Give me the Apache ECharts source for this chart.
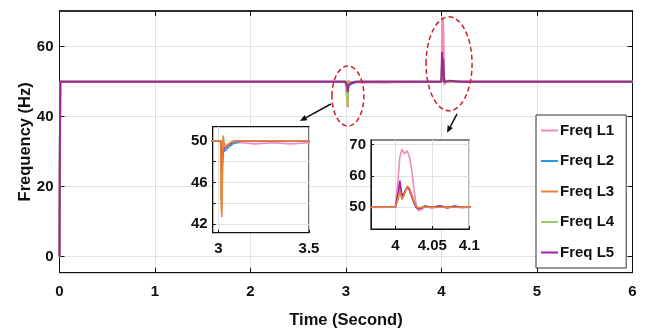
<!DOCTYPE html>
<html><head><meta charset="utf-8">
<script src="https://cdn.jsdelivr.net/npm/echarts@6/dist/echarts.min.js"></script>
<style>html,body{margin:0;padding:0;background:#fff}#c{width:649px;height:335px}</style>
</head><body><div id="c"></div>
<script>
// ---- data (time in seconds, frequency in Hz) ----
const T  = [0, 0.004, 0.008, 2.995, 3.012, 3.015, 3.018, 3.022, 3.026, 3.03, 3.04, 3.05, 3.065, 3.08, 3.1, 3.13, 3.2, 3.3, 3.4, 3.5, 3.9, 4.0, 4.002, 4.004, 4.006, 4.009, 4.012, 4.016, 4.019, 4.022, 4.025, 4.028, 4.031, 4.035, 4.04, 4.05, 4.06, 4.07, 4.08, 4.09, 4.1, 4.2, 6];
const L1 = [0, 30, 50, 50, 50, 49.7, 49.5, 49.6, 49.7, 49.6, 49.5, 49.6, 49.7, 49.8, 49.8, 49.8, 49.7, 49.8, 49.7, 49.8, 49.9, 50, 50, 60, 66, 68.5, 67, 68, 66, 62, 56, 51, 49, 49.2, 50.2, 49.7, 50.3, 49.8, 50.2, 49.8, 50, 50, 50];
const L2 = [0, 30, 50, 50, 50, 49.4, 49.1, 48.9, 48.8, 48.9, 49.1, 49.3, 49.5, 49.7, 49.8, 50, 50, 50, 50, 50, 50, 50, 50, 54, 57, 53.5, 54.5, 56.5, 56, 54, 52, 50.5, 49.7, 49.8, 50.4, 50, 50.5, 49.9, 50.4, 50, 50, 50, 50];
const L3 = [0, 30, 50, 50, 50, 44, 42.7, 47, 50.5, 49.8, 49.4, 49.5, 49.8, 49.9, 50, 50, 50, 50, 50, 50, 50, 50, 50, 53, 55, 52.5, 54, 56.8, 56, 54, 52, 50.3, 49.8, 50, 50.1, 50, 50, 50, 50, 50, 50, 50, 50];
const L4 = [0, 30, 50, 50, 50, 45, 43.3, 47.5, 50.2, 49.7, 49.4, 49.6, 49.8, 49.9, 50, 50, 50, 50, 50, 50, 50, 50, 50, 53.5, 56, 53, 54.5, 56.5, 55.5, 53.5, 51.5, 50, 49.6, 49.8, 50.2, 50, 50.2, 50, 50.1, 50, 50, 50, 50];
const L5 = [0, 30, 50, 50, 50, 48.5, 47, 48, 48.8, 49.2, 49.4, 49.5, 49.7, 49.9, 50, 50, 50, 50, 50, 50, 50, 50, 50, 55, 58.5, 53.5, 54.5, 56.5, 55.5, 53.5, 51.5, 50, 49.5, 49.8, 50.3, 50, 50.4, 49.9, 50.3, 50, 50, 50, 50];
const seriesNames = ['Freq L1', 'Freq L2', 'Freq L3', 'Freq L4', 'Freq L5'];
const seriesValues = [L1, L2, L3, L4, L5];
const mainYTicks = [0, 20, 40, 60];
const mainXTicks = [0, 1, 2, 3, 4, 5, 6];
const inset1XTicks = [3, 3.5];
const inset1YLabels = [42, 46, 50];
const inset1YTicks = [42, 44, 46, 48, 50];
const inset2XTicks = [4, 4.05, 4.1];
const inset2YTicks = [50, 60, 70];

// ---- styling ----
const colors = ['#f08cb8', '#1e9fd8', '#f07f3a', '#98cc68', '#a0229e'];
const FONT = 'Liberation Sans';
const lbl = {fontFamily: FONT, fontWeight: 'bold', fontSize: 15, color: '#111'};
const gridLine = {show: true, lineStyle: {color: '#e2e2e2', width: 1}};

const chart = echarts.init(document.getElementById('c'));

function pairs(vals) { return T.map((t, k) => [t, vals[k]]); }

const series = [];
function addSeries(gi, order, width, z) {
  order.forEach(i => {
    series.push({
      name: seriesNames[i], type: 'line', xAxisIndex: gi, yAxisIndex: gi,
      data: pairs(seriesValues[i]), showSymbol: false, symbol: 'none',
      lineStyle: {color: colors[i], width: width}, itemStyle: {color: colors[i]},
      clip: true, animation: false, z: z
    });
  });
}
addSeries(0, [0, 1, 2, 3, 4], 2, 2);
addSeries(1, [0, 1, 3, 4, 2], 1.6, 8);
addSeries(2, [0, 1, 3, 4, 2], 1.6, 8);

const axisBlack = {show: true, onZero: false, lineStyle: {color: '#111', width: 1}};

const option = {
  animation: false,
  backgroundColor: '#fff',
  grid: [
    {left: 59.5, right: 16.5, top: 11, bottom: 62.3, show: true, borderColor: '#111', borderWidth: 1, backgroundColor: '#fff'},
    {left: 212.7, width: 96.3, top: 126.7, height: 106, show: true, borderColor: '#111', borderWidth: 1.2, backgroundColor: '#fff', z: 5},
    {left: 371, width: 98.3, top: 140, height: 89, show: true, borderColor: '#111', borderWidth: 1.2, backgroundColor: '#fff', z: 5}
  ],
  xAxis: [
    {type: 'value', gridIndex: 0, min: 0, max: 6, interval: 1, axisLine: axisBlack,
     axisTick: {inside: true, length: 5, lineStyle: {color: '#111'}},
     axisLabel: Object.assign({margin: 12, customValues: mainXTicks}, lbl),
     splitLine: gridLine,
     name: 'Time (Second)', nameLocation: 'middle', nameGap: 39,
     nameTextStyle: {fontFamily: FONT, fontWeight: 'bold', fontSize: 16.5, color: '#111'}},
    {type: 'value', gridIndex: 1, min: 2.968, max: 3.5, axisLine: axisBlack,
     axisTick: {inside: true, length: 3, customValues: inset1XTicks, lineStyle: {color: '#111'}},
     axisLabel: Object.assign({margin: 9, customValues: inset1XTicks, showMinLabel: true, showMaxLabel: true}, lbl),
     splitLine: gridLine, z: 6},
    {type: 'value', gridIndex: 2, min: 3.967, max: 4.1, axisLine: axisBlack,
     axisTick: {inside: true, length: 3, customValues: inset2XTicks, lineStyle: {color: '#111'}},
     axisLabel: Object.assign({margin: 9, customValues: inset2XTicks}, lbl),
     splitLine: gridLine, z: 6},
    {type: 'value', gridIndex: 0, position: 'top', min: 0, max: 6, interval: 1,
     axisLine: {show: true, onZero: false, lineStyle: {color: '#111', width: 1.5}},
     axisTick: {inside: true, length: 5, lineStyle: {color: '#111'}},
     axisLabel: {show: false}, splitLine: {show: false}}
  ],
  yAxis: [
    {type: 'value', gridIndex: 0, min: -4.6, max: 70.2, axisLine: axisBlack,
     axisTick: {inside: true, length: 5, customValues: mainYTicks, lineStyle: {color: '#111'}},
     axisLabel: Object.assign({margin: 6, customValues: mainYTicks}, lbl),
     splitLine: gridLine,
     name: 'Frequency (Hz)', nameLocation: 'middle', nameGap: 26, nameMoveOverlap: false,
     nameTextStyle: {fontFamily: FONT, fontWeight: 'bold', fontSize: 16.5, color: '#111'}},
    {type: 'value', gridIndex: 1, min: 41.2, max: 51.34, axisLine: axisBlack,
     axisTick: {inside: true, length: 3, customValues: inset1YTicks, lineStyle: {color: '#111'}},
     axisLabel: Object.assign({margin: 5, customValues: inset1YLabels}, lbl),
     splitLine: gridLine, z: 6},
    {type: 'value', gridIndex: 2, min: 43.1, max: 71.4, axisLine: axisBlack,
     axisTick: {inside: true, length: 3, customValues: inset2YTicks, lineStyle: {color: '#111'}},
     axisLabel: Object.assign({margin: 5, customValues: inset2YTicks}, lbl),
     splitLine: gridLine, z: 6},
    {type: 'value', gridIndex: 0, position: 'right', min: -4.6, max: 70.2, axisLine: axisBlack,
     axisTick: {inside: true, length: 5, customValues: mainYTicks, lineStyle: {color: '#111'}},
     axisLabel: {show: false}, splitLine: {show: false}}
  ],
  legend: {
    data: seriesNames, orient: 'vertical', left: 536, top: 115,
    padding: [8, 12, 8, 5], itemGap: 15.5, itemWidth: 17, itemHeight: 2, icon: 'rect',
    backgroundColor: '#fff', borderColor: '#333', borderWidth: 1,
    textStyle: {fontFamily: FONT, fontWeight: 'bold', fontSize: 15, color: '#111', padding: [0, 0, 0, -3]},
    z: 10
  },
  series: series
};
chart.setOption(option);

// ---- annotations: dashed red ellipses and arrows, placed from data coordinates ----
function px(x, y) { return chart.convertToPixel({gridIndex: 0}, [x, y]); }
function arrow(p0, p1) {
  const dx = p1[0] - p0[0], dy = p1[1] - p0[1];
  const L = Math.sqrt(dx * dx + dy * dy), ux = dx / L, uy = dy / L;
  const hl = 7, hw = 3;
  const bx = p1[0] - ux * hl, by = p1[1] - uy * hl;
  return [
    {type: 'line', z: 20, shape: {x1: p0[0], y1: p0[1], x2: bx, y2: by}, style: {stroke: '#111', lineWidth: 1.5}},
    {type: 'polygon', z: 20, shape: {points: [[p1[0], p1[1]], [bx - uy * hw, by + ux * hw], [bx + uy * hw, by - ux * hw]]}, style: {fill: '#111'}}
  ];
}
const e1 = px(3.02, 45.9), e2 = px(4.079, 55.1);
const g = [
  {type: 'ellipse', z: 20, shape: {cx: e1[0], cy: e1[1], rx: 16, ry: 30}, style: {fill: 'none', stroke: '#d01f2a', lineWidth: 1.5, lineDash: [5, 3]}},
  {type: 'ellipse', z: 20, shape: {cx: e2[0], cy: e2[1], rx: 23, ry: 47}, style: {fill: 'none', stroke: '#d01f2a', lineWidth: 1.5, lineDash: [5, 3]}}
].concat(arrow([e1[0] - 17, e1[1] + 8], [e1[0] - 48, e1[1] + 25]))
 .concat(arrow([e2[0] + 8, e2[1] + 50], [e2[0] - 2, e2[1] + 69]));
chart.setOption({graphic: g});
</script></body></html>
